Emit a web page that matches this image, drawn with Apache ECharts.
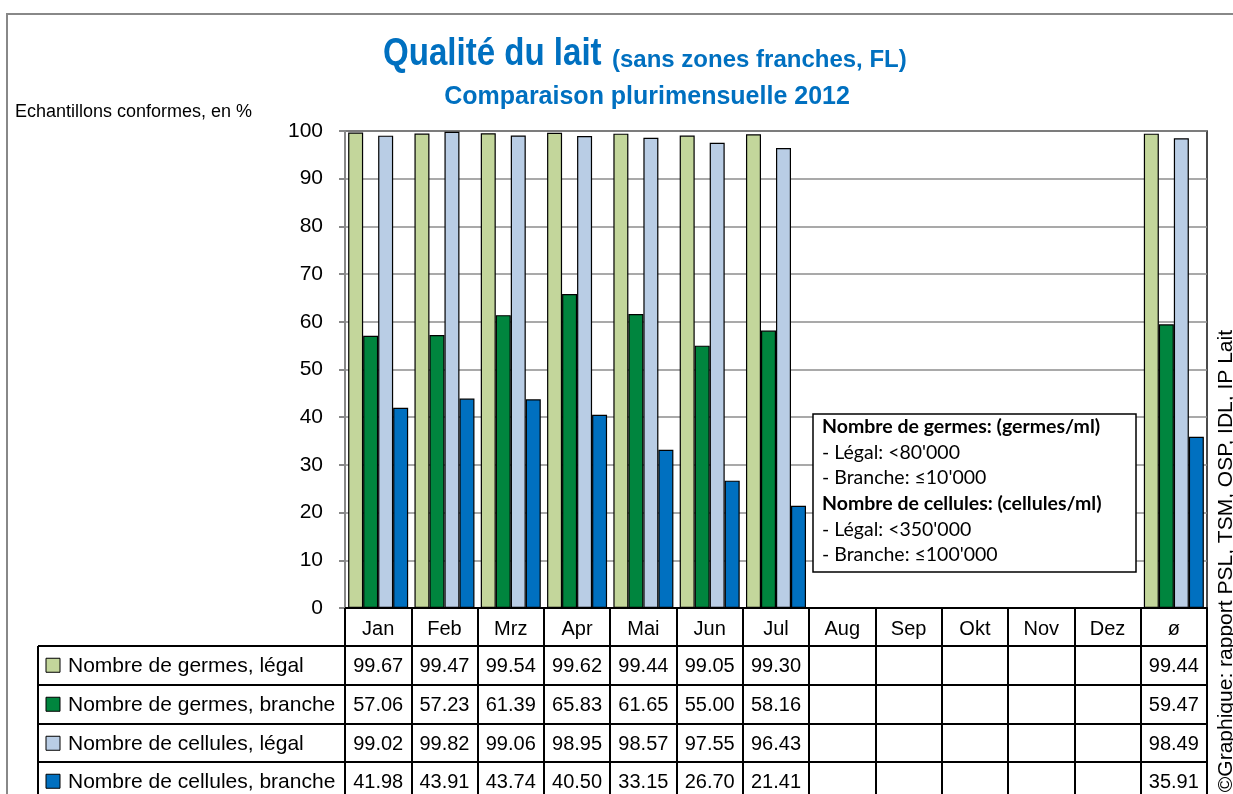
<!DOCTYPE html>
<html>
<head>
<meta charset="utf-8">
<script src="https://cdn.jsdelivr.net/npm/echarts@6.0.0/dist/echarts.min.js"></script>
<style>
  html, body { margin: 0; padding: 0; background: #fff; }
  #chart { width: 1233px; height: 794px; }
</style>
</head>
<body>
<div id="chart"></div>
<script>
// mois + moyenne
var months = ['Jan', 'Feb', 'Mrz', 'Apr', 'Mai', 'Jun', 'Jul', 'Aug', 'Sep', 'Okt', 'Nov', 'Dez', 'ø'];
var germesLegal = [99.67, 99.47, 99.54, 99.62, 99.44, 99.05, 99.30, null, null, null, null, null, 99.44];
var germesBranche = [57.06, 57.23, 61.39, 65.83, 61.65, 55.00, 58.16, null, null, null, null, null, 59.47];
var cellulesLegal = [99.02, 99.82, 99.06, 98.95, 98.57, 97.55, 96.43, null, null, null, null, null, 98.49];
var cellulesBranche = [41.98, 43.91, 43.74, 40.50, 33.15, 26.70, 21.41, null, null, null, null, null, 35.91];
var seriesNames = ['Nombre de germes, légal', 'Nombre de germes, branche', 'Nombre de cellules, légal', 'Nombre de cellules, branche'];
var seriesColors = ['#C3D69B', '#00853E', '#B9CDE5', '#0070C0'];
var yTicks = [0, 10, 20, 30, 40, 50, 60, 70, 80, 90, 100];

var allSeries = [germesLegal, germesBranche, cellulesLegal, cellulesBranche];
var ARIAL = '"Liberation Sans", Arial, sans-serif';

var chart = echarts.init(document.getElementById('chart'));

chart.setOption({
  animation: false,
  backgroundColor: '#fff',
  grid: {
    left: 345, right: 26, top: 131, bottom: 186,
    show: true, borderColor: '#111', borderWidth: 1.5
  },
  xAxis: {
    type: 'category',
    data: months,
    axisLine: { lineStyle: { color: '#000', width: 2 } },
    // les graduations servent de séparateurs de colonnes du tableau
    axisTick: { show: true, length: 190, lineStyle: { color: '#000', width: 2 } },
    axisLabel: { color: '#000', fontSize: 20, fontFamily: ARIAL, margin: 11 }
  },
  yAxis: {
    type: 'value',
    min: 0, max: 100, interval: 10,
    axisLine: { show: true, lineStyle: { color: '#888', width: 2 } },
    axisTick: { show: true, length: 6, lineStyle: { color: '#888', width: 2 } },
    axisLabel: {
      color: '#000', fontSize: 21, fontFamily: ARIAL, margin: 22,
      formatter: function (v) { return yTicks.indexOf(v) >= 0 ? String(v) : ''; }
    },
    splitLine: { lineStyle: { color: '#8c8c8c', width: 1.5 } }
  },
  series: allSeries.map(function (d, i) {
    return {
      name: seriesNames[i],
      type: 'bar',
      data: d,
      barGap: '0%',
      barCategoryGap: '9.5%',
      itemStyle: { color: seriesColors[i], borderColor: '#000', borderWidth: 1.2 },
      silent: true
    };
  })
});

var graphics = [];
// cadre extérieur
graphics.push({ type: 'polyline', shape: { points: [[7, 800], [7, 14], [1240, 14]] }, style: { stroke: '#888', lineWidth: 2, fill: null } });

// titres
graphics.push({
  type: 'text', x: 383, y: 55, scaleX: 0.87,
  style: { text: 'Qualité du lait', fontSize: 38, fontWeight: 'bold', fontFamily: ARIAL, fill: '#0070C0', verticalAlign: 'middle' }
});
graphics.push({
  type: 'text', x: 612, y: 60,
  style: { text: '(sans zones franches, FL)', fontSize: 24, fontWeight: 'bold', fontFamily: ARIAL, fill: '#0070C0', verticalAlign: 'middle' }
});
graphics.push({
  type: 'text', x: 647, y: 97,
  style: { text: 'Comparaison plurimensuelle 2012', fontSize: 25, fontWeight: 'bold', fontFamily: ARIAL, fill: '#0070C0', align: 'center', verticalAlign: 'middle' }
});
graphics.push({
  type: 'text', x: 15, y: 112,
  style: { text: 'Echantillons conformes, en %', fontSize: 18, fontFamily: ARIAL, fill: '#000', verticalAlign: 'middle' }
});

// lignes du tableau
var rowTops = [646, 685, 724, 762];
var tableRight = 1207;
rowTops.forEach(function (y) {
  graphics.push({ type: 'line', shape: { x1: 38, y1: y, x2: tableRight, y2: y }, style: { stroke: '#000', lineWidth: 2 } });
});
graphics.push({ type: 'line', shape: { x1: 38, y1: 646, x2: 38, y2: 800 }, style: { stroke: '#000', lineWidth: 2 } });

var rowH = 38.5;
allSeries.forEach(function (d, r) {
  var cy = rowTops[r] + rowH / 2;
  graphics.push({ type: 'rect', shape: { x: 46, y: cy - 7, width: 14, height: 14 }, style: { fill: seriesColors[r], stroke: '#000', lineWidth: 1 } });
  graphics.push({ type: 'text', x: 68, y: cy + 1, style: { text: seriesNames[r], fontSize: 21, fontFamily: ARIAL, fill: '#000', verticalAlign: 'middle' } });
  d.forEach(function (v, c) {
    if (v == null) return;
    var px = chart.convertToPixel({ xAxisIndex: 0 }, months[c]);
    graphics.push({ type: 'text', x: px, y: cy + 1, style: { text: v.toFixed(2), fontSize: 20, fontFamily: ARIAL, fill: '#000', align: 'center', verticalAlign: 'middle' } });
  });
});

// encadré des normes
var noteX = 813, noteY = 414;
var noteLines = [
  ['Nombre de germes: (germes/ml)', true],
  ['- Légal: <80\'000', false],
  ['- Branche: ≤10\'000', false],
  ['Nombre de cellules: (cellules/ml)', true],
  ['- Légal: <350\'000', false],
  ['- Branche: ≤100\'000', false]
];
graphics.push({ type: 'rect', shape: { x: noteX, y: noteY, width: 323, height: 158 }, style: { fill: '#fff', stroke: '#000', lineWidth: 1.5 } });
noteLines.forEach(function (l, i) {
  graphics.push({
    type: 'text', x: noteX + 9, y: noteY + 13 + i * 25.6,
    style: { text: l[0], fontSize: 19.5, fontWeight: l[1] ? 'bold' : 'normal', fontFamily: 'Lato, "Open Sans", sans-serif', fill: '#000', verticalAlign: 'middle' }
  });
});

// source (verticale)
graphics.push({
  type: 'text', x: 1226, y: 330, rotation: Math.PI / 2,
  style: { text: '©Graphique: rapport PSL, TSM, OSP, IDL, IP Lait', fontSize: 21, fontFamily: ARIAL, fill: '#000', align: 'right', verticalAlign: 'middle' }
});

chart.setOption({ graphic: graphics });
</script>
</body>
</html>
